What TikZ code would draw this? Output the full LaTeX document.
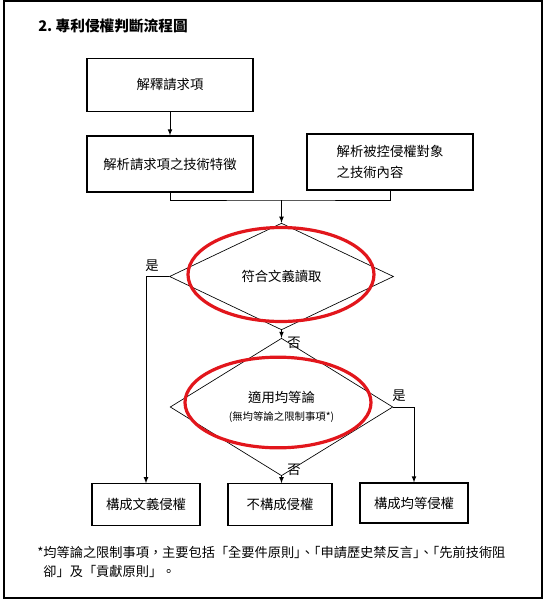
\documentclass[tikz,border=0pt]{standalone}
\usepackage{fontspec}
\setmainfont{Noto Sans CJK TC}
\usetikzlibrary{
    arrows,
    shapes.geometric,
    positioning
}
\definecolor{ringred}{RGB}{226,22,28}
\newcommand{\tightcomma}{」\kern-0.5em、\kern-0.5em「}
\tikzset{sbox/.style={draw=black, line width=0.8pt, inner sep=0pt, align=center, font=\fontsize{10}{16}\selectfont}}
\tikzset{sdec/.style={diamond, draw=black, line width=0.5pt, inner sep=0pt, align=center, font=\fontsize{10}{13}\selectfont}}
\tikzset{sring/.style={ellipse, draw=ringred, line width=2.4pt, inner sep=0pt}}
\tikzset{slab/.style={inner sep=1pt, font=\fontsize{10}{12}\selectfont}}
\tikzset{sarr/.style={-latex, line width=0.6pt}}

\begin{document}
\begin{tikzpicture}[x=0.75pt, y=-0.75pt]
                    \useasboundingbox (0,0) rectangle (548,600);
                    \draw[line width=0.8pt] (4,1) rectangle (542,598);
                    \node[anchor=west, inner sep=0pt, font=\bfseries\fontsize{11}{13}\selectfont] (title) at (38,26) {2.\ 專利侵權判斷流程圖};

                    \node[sbox, minimum width=124.5pt, minimum height=40pt] (interpret) at (170,85) {解釋請求項};
                    \node[sbox, minimum width=124.5pt, minimum height=42pt] (claimfeat) at (170,164) {解析請求項之技術特徵};
                    \node[sbox, minimum width=124.5pt, minimum height=42pt, align=left] (accused) at (390,162) {解析被控侵權對象\\之技術內容};
                    \coordinate (join) at (281.5,200);

                    \node[sdec, minimum width=168pt, minimum height=80pt] (literal) at (281.5,276.5) {符合文義讀取};
                    \node[sdec, minimum width=167pt, minimum height=79.5pt] (equiv) at (281.5,407) {適用均等論\\[1pt]{\fontsize{7.8}{9}\selectfont (無均等論之限制事項*)}};
                    \node[sring, minimum width=139.5pt, minimum height=70.5pt] (ringA) at (281,274.5) {};
                    \node[sring, minimum width=139.5pt, minimum height=68pt] (ringB) at (278,402.5) {};

                    \node[sbox, minimum width=81pt, minimum height=31pt] (litinf) at (146,504.5) {構成文義侵權};
                    \node[sbox, minimum width=78pt, minimum height=31pt] (noinf) at (280,504.5) {不構成侵權};
                    \node[sbox, minimum width=81pt, minimum height=30pt] (equinf) at (414,503) {構成均等侵權};

                    \draw[sarr] (interpret) -- (claimfeat);
                    \draw[line width=0.6pt] (claimfeat.south) |- (join) -| (accused.south);
                    \draw[sarr] (join) -- (literal.north);
                    \draw[sarr] (literal.west) -| (litinf.north);
                    \draw[sarr] (literal.south) -- (equiv.north);
                    \draw[sarr] (equiv.south) -- (equiv.south |- noinf.north);
                    \draw[sarr] (equiv.east) -| (equinf.north);

                    \node[slab] (yesA) at (152,266) {是};
                    \node[slab] (noA) at (294,343) {否};
                    \node[slab] (yesB) at (399,396) {是};
                    \node[slab] (noB) at (294,470) {否};

                    \node[anchor=north west, inner sep=0pt, align=left, font=\fontsize{9.9}{14.25}\selectfont] (note) at (37,546) {*均等論之限制事項，主要包括「全要件原則\tightcomma 申請歷史禁反言\tightcomma 先前技術阻\\\phantom{*}卻」及「貢獻原則」。};
                \end{tikzpicture}
\end{document}
